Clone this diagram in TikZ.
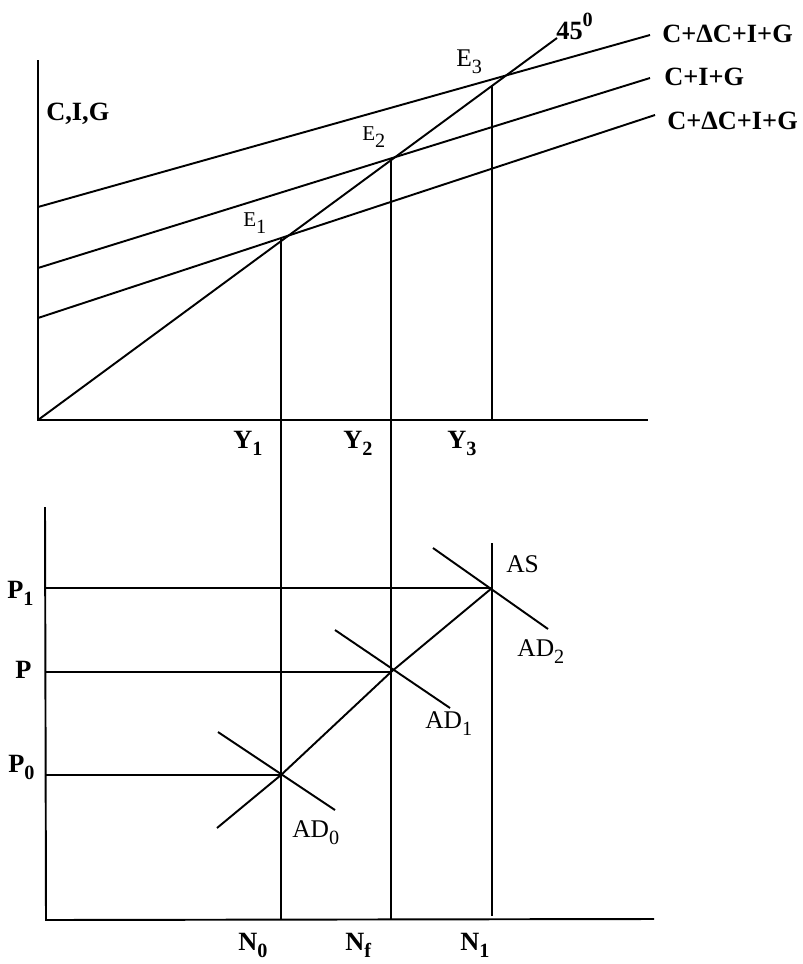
\documentclass[tikz,border=0pt]{standalone}
\usepackage{fontspec}
\setmainfont{Liberation Serif}
\usetikzlibrary{positioning}

\newcommand{\lowsub}[1]{\raisebox{-4.5pt}{\fontsize{11.5}{12}\selectfont #1}}
\newcommand{\highsup}[1]{\raisebox{7pt}{\fontsize{11.5}{12}\selectfont #1}}

\begin{document}
\begin{tikzpicture}[
    x=0.02cm, y=-0.02cm,
    line/.style={line width=1.1pt},
    axislbl/.style={font=\fontsize{15}{17}\selectfont\bfseries, inner sep=0pt, anchor=base west},
    curvelbl/.style={font=\fontsize{14.5}{16}\selectfont, inner sep=0pt, anchor=base west},
    eqlbl/.style={font=\fontsize{12}{13}\selectfont, inner sep=0pt, anchor=base west}
]
    \useasboundingbox (0,0) rectangle (802,964);

    % Upper diagram: expenditure
    \coordinate (O) at (38,420);
    \coordinate (ytop) at (38,60);
    \coordinate (xend) at (648,420);
    \coordinate (deg) at (557,38);
    \coordinate (E1) at (281,238);
    \coordinate (E2) at (391,159);
    \coordinate (E3) at (492,86);
    \coordinate (Y3) at (492,420);
    \coordinate (hiA) at (38,207);
    \coordinate (hiB) at (650,35);
    \coordinate (midA) at (38,268);
    \coordinate (midB) at (650,78);
    \coordinate (loA) at (38,318);
    \coordinate (loB) at (655,115);

    % Lower diagram: prices
    \coordinate (O2) at (46,920);
    \coordinate (ptop) at (45,507);
    \coordinate (nend) at (654,919);
    \coordinate (N0) at (281,920);
    \coordinate (Nf) at (391,920);
    \coordinate (N1) at (492,916);
    \coordinate (AStop) at (492,543);
    \coordinate (A0) at (281,775);
    \coordinate (A1) at (391,672);
    \coordinate (A2) at (492,588);
    \coordinate (P0) at (46,775);
    \coordinate (P) at (46,672);
    \coordinate (P1) at (46,588);
    \coordinate (sLow) at (217,828);
    \coordinate (ad0a) at (218,732);
    \coordinate (ad0b) at (335,810);
    \coordinate (ad1a) at (335,630);
    \coordinate (ad1b) at (450,708);
    \coordinate (ad2a) at (433,548);
    \coordinate (ad2b) at (548,629);

    % Axes
    \draw[line] (ytop) -- (O) -- (xend);
    \draw[line] (ptop) -- (O2) -- (nend);

    % Expenditure lines
    \draw[line] (O) -- (deg);
    \draw[line] (hiA) -- (hiB);
    \draw[line] (midA) -- (midB);
    \draw[line] (loA) -- (loB);

    % Drop lines
    \draw[line] (E1) -- (N0);
    \draw[line] (E2) -- (Nf);
    \draw[line] (E3) -- (Y3);
    \draw[line] (AStop) -- (N1);

    % Price lines
    \draw[line] (P0) -- (A0);
    \draw[line] (P) -- (A1);
    \draw[line] (P1) -- (A2);
    \draw[line] (sLow) -- (A0) -- (A1) -- (A2);
    \draw[line] (ad0a) -- (ad0b);
    \draw[line] (ad1a) -- (ad1b);
    \draw[line] (ad2a) -- (ad2b);

    % Labels
    \node[axislbl] (cig) at (46,120) {C,I,G};
    \node[axislbl] (deglbl) at (556,39) {45\highsup{0}};
    \node[axislbl] (hilbl) at (662,42) {C+ΔC+I+G};
    \node[axislbl] (midlbl) at (664,85) {C+I+G};
    \node[axislbl] (lolbl) at (667,129) {C+ΔC+I+G};
    \node[eqlbl] (e1lbl) at (243,226) {E\lowsub{1}};
    \node[eqlbl] (e2lbl) at (362,140) {E\lowsub{2}};
    \node[curvelbl] (e3lbl) at (456,66) {E\lowsub{3}};
    \node[axislbl] (y1lbl) at (233,448) {Y\lowsub{1}};
    \node[axislbl] (y2lbl) at (343,448) {Y\lowsub{2}};
    \node[axislbl] (y3lbl) at (447,448) {Y\lowsub{3}};
    \node[axislbl] (p1lbl) at (7,598) {P\lowsub{1}};
    \node[axislbl] (plbl) at (15,678) {P};
    \node[axislbl] (p0lbl) at (8,772) {P\lowsub{0}};
    \node[axislbl] (n0lbl) at (238,950) {N\lowsub{0}};
    \node[axislbl] (nflbl) at (345,950) {N\lowsub{f}};
    \node[axislbl] (n1lbl) at (460,950) {N\lowsub{1}};
    \node[curvelbl] (aslbl) at (506,572) {AS};
    \node[curvelbl] (ad2lbl) at (517,656) {AD\lowsub{2}};
    \node[curvelbl] (ad1lbl) at (425,728) {AD\lowsub{1}};
    \node[curvelbl] (ad0lbl) at (292,837) {AD\lowsub{0}};
\end{tikzpicture}
\end{document}
